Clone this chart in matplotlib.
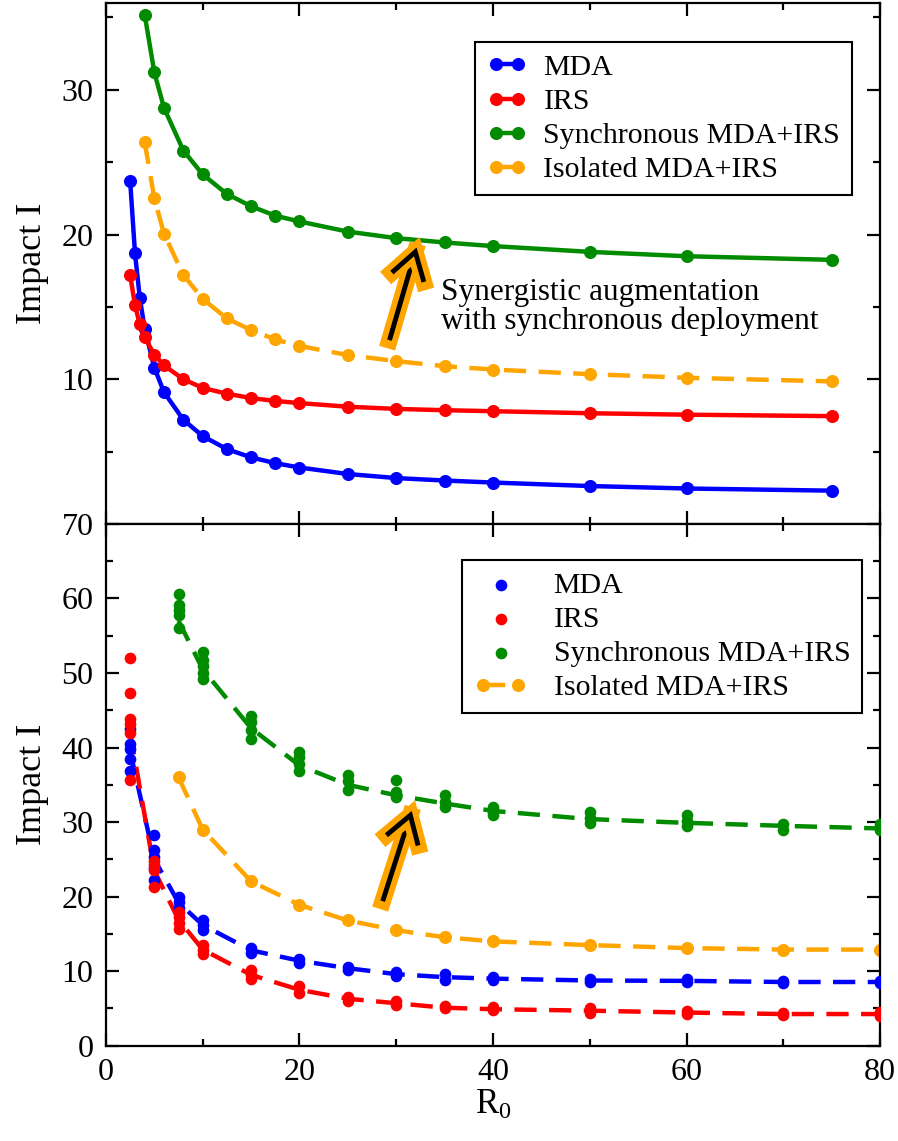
import numpy as np
import matplotlib
matplotlib.use('Agg')
import matplotlib.pyplot as plt
import matplotlib.patheffects as pe
from matplotlib.patches import FancyArrowPatch
from matplotlib.ticker import MultipleLocator, FixedLocator


# top panel: deterministic curves
R0_top = [2.5, 3, 3.5, 4, 5, 6, 8, 10, 12.5, 15, 17.5, 20, 25, 30, 35, 40, 50, 60, 75]
mda_top = [23.7, 18.7, 15.6, 13.5, 10.8, 9.1, 7.2, 6.07, 5.17, 4.6, 4.2, 3.9, 3.45, 3.17, 3.0, 2.86, 2.62, 2.45, 2.3]
irs_top = [17.2, 15.1, 13.8, 12.9, 11.7, 10.95, 10.0, 9.4, 9.0, 8.7, 8.5, 8.35, 8.1, 7.95, 7.86, 7.79, 7.65, 7.55, 7.45]

R0_top_comb = [4, 5, 6, 8, 10, 12.5, 15, 17.5, 20, 25, 30, 35, 40, 50, 60, 75]
sync_top = [35.2, 31.2, 28.75, 25.8, 24.15, 22.8, 21.95, 21.3, 20.9, 20.2, 19.75, 19.45, 19.2, 18.8, 18.5, 18.25]
iso_top = [26.4, 22.5, 20.05, 17.2, 15.55, 14.2, 13.4, 12.75, 12.3, 11.67, 11.25, 10.9, 10.67, 10.35, 10.1, 9.85]

# bottom panel: stochastic replicates (scatter) and their average (dashed)
R0_bot = [2.5, 5, 7.5, 10, 15, 20, 25, 30, 35, 40, 50, 60, 70, 80]
mda_reps = [[42.5, 40.5, 39.8, 38.5, 36.8], [28.3, 26.2, 25.3, 23.8, 22.3], [19.9, 19.3, 18.5],
            [16.8, 16.2, 15.5], [13.1, 12.5], [11.7, 11.1], [10.6, 10.2], [9.9, 9.4], [9.6, 8.8],
            [9.2, 8.8], [8.9, 8.6], [8.9, 8.5], [8.7, 8.4], [8.7, 8.4]]
irs_reps = [[52.0, 47.3, 43.8, 43.2, 42.0, 35.6], [24.8, 24.2, 23.6, 21.3], [18.0, 17.3, 16.5, 15.7],
            [13.5, 12.9, 12.3], [10.1, 9.5, 8.9], [8.0, 7.1], [6.6, 6.0], [6.0, 5.5], [5.3, 5.0],
            [5.2, 4.8], [5.0, 4.4], [4.7, 4.2], [4.4, 4.1], [4.5, 4.0]]
mda_avg = [39.5, 25.0, 19.2, 16.2, 12.8, 11.4, 10.4, 9.6, 9.2, 9.0, 8.75, 8.7, 8.55, 8.55]
irs_avg = [42.0, 23.5, 16.9, 12.9, 9.5, 7.5, 6.3, 5.7, 5.1, 4.9, 4.7, 4.45, 4.25, 4.25]

R0_bot_comb = [7.5, 10, 15, 20, 25, 30, 35, 40, 50, 60, 70, 80]
sync_reps = [[60.6, 59.1, 58.4, 57.8, 56.1], [52.8, 51.8, 51.0, 50.0, 49.2], [44.2, 43.4, 42.3, 41.2],
             [39.4, 38.7, 37.8, 36.8], [36.3, 35.5, 34.3], [35.6, 34.0, 33.4], [33.6, 32.7, 32.0],
             [32.0, 31.4, 30.9], [31.3, 30.6, 29.9], [30.9, 30.1, 29.5], [29.8, 29.0], [29.7, 28.9]]
sync_avg = [57.0, 50.5, 42.6, 37.6, 35.0, 33.6, 32.5, 31.5, 30.4, 29.9, 29.5, 29.15]
iso_bot = [36.0, 29.0, 22.05, 18.9, 16.8, 15.5, 14.55, 14.0, 13.5, 13.1, 12.9, 12.9]

C_MDA = '#0000ff'
C_IRS = '#ff0000'
C_SYNC = '#008b00'
C_ISO = '#ffa500'

plt.rcParams['font.family'] = ['Liberation Serif', 'DejaVu Serif']
plt.rcParams['mathtext.fontset'] = 'custom'
plt.rcParams['mathtext.rm'] = 'Liberation Serif'
plt.rcParams['mathtext.it'] = 'Liberation Serif:italic'

fig = plt.figure(figsize=(8.98, 11.41), dpi=100)
ax1 = fig.add_axes([0.118, 0.5408, 0.862, 0.4566])
ax2 = fig.add_axes([0.118, 0.0835, 0.862, 0.4573], sharex=ax1)

LW = 3.2
MS = 8.4
DASH = (5.0, 2.8)
LEGFONT = 21.5

# ---- top panel
ax1.plot(R0_top, mda_top, '-o', color=C_MDA, lw=LW, ms=MS, label='MDA')
ax1.plot(R0_top, irs_top, '-o', color=C_IRS, lw=LW, ms=MS, label='IRS')
ax1.plot(R0_top_comb, sync_top, '-o', color=C_SYNC, lw=LW, ms=MS, label='Synchronous MDA+IRS')
ax1.plot(R0_top_comb, iso_top, '--o', color=C_ISO, lw=LW, ms=MS, dashes=DASH,
         label='Isolated MDA+IRS')

ax1.set_ylim(0, 36)
ax1.yaxis.set_major_locator(FixedLocator([10, 20, 30]))
ax1.yaxis.set_minor_locator(FixedLocator([5, 15, 25, 35]))
ax1.tick_params(axis='x', labelbottom=False)

leg1 = ax1.legend(loc='upper right', bbox_to_anchor=(0.964, 0.925), numpoints=2,
                  fontsize=LEGFONT, handlelength=1.35, labelspacing=0.24, handletextpad=0.55,
                  borderpad=0.4, borderaxespad=0, fancybox=False, framealpha=1,
                  edgecolor='black')
leg1.get_frame().set_linewidth(1.5)

ax1.text(34.6, 15.0, 'Synergistic augmentation\nwith synchronous deployment',
         fontsize=22.5, ha='left', va='center', linespacing=1.0)

# ---- bottom panel
for x, reps in zip(R0_bot, mda_reps):
    ax2.scatter([x] * len(reps), reps, s=MS ** 2, color=C_MDA, zorder=3, linewidths=0)
for x, reps in zip(R0_bot, irs_reps):
    ax2.scatter([x] * len(reps), reps, s=MS ** 2, color=C_IRS, zorder=3, linewidths=0)
for x, reps in zip(R0_bot_comb, sync_reps):
    ax2.scatter([x] * len(reps), reps, s=MS ** 2, color=C_SYNC, zorder=3, linewidths=0)

ax2.plot(R0_bot, mda_avg, '--', color=C_MDA, lw=LW, dashes=DASH)
ax2.plot(R0_bot, irs_avg, '--', color=C_IRS, lw=LW, dashes=DASH)
ax2.plot(R0_bot_comb, sync_avg, '--', color=C_SYNC, lw=LW, dashes=DASH)
ax2.plot(R0_bot_comb, iso_bot, '--o', color=C_ISO, lw=LW, ms=MS, dashes=DASH)

# legend proxies
h_mda = ax2.scatter([], [], s=MS ** 2, color=C_MDA, linewidths=0, label='MDA')
h_irs = ax2.scatter([], [], s=MS ** 2, color=C_IRS, linewidths=0, label='IRS')
h_sync = ax2.scatter([], [], s=MS ** 2, color=C_SYNC, linewidths=0, label='Synchronous MDA+IRS')
h_iso, = ax2.plot([], [], '--o', color=C_ISO, lw=LW, ms=MS, dashes=DASH, label='Isolated MDA+IRS')
leg2 = ax2.legend(handles=[h_mda, h_irs, h_sync, h_iso], loc='upper right',
                  bbox_to_anchor=(0.977, 0.931), numpoints=2, scatterpoints=1,
                  fontsize=LEGFONT, handlelength=1.75, labelspacing=0.24, handletextpad=0.9,
                  borderpad=0.4, borderaxespad=0, fancybox=False, framealpha=1,
                  edgecolor='black')
leg2.get_frame().set_linewidth(1.5)

ax2.set_xlim(0, 80)
ax2.set_ylim(0, 70)
ax2.xaxis.set_major_locator(MultipleLocator(20))
ax2.xaxis.set_minor_locator(MultipleLocator(10))
ax2.yaxis.set_major_locator(MultipleLocator(10))
ax2.yaxis.set_minor_locator(MultipleLocator(5))
ax2.set_xlabel('R$_0$', fontsize=25, labelpad=1)

# arrows with orange outline
for ax, (x0, y0), (x1, y1) in [(ax1, (29.3, 12.7), (32.1, 19.1)),
                               (ax2, (28.6, 19.4), (31.6, 31.5))]:
    arr = FancyArrowPatch((x0, y0), (x1, y1), arrowstyle='->,head_length=0.95,head_width=0.6',
                          color='black', lw=3.5, mutation_scale=20, zorder=5,
                          shrinkA=0, shrinkB=0, capstyle='butt', joinstyle='miter')
    arr.set_path_effects([pe.Stroke(linewidth=12, foreground=C_ISO, joinstyle='miter',
                                    capstyle='projecting'), pe.Normal()])
    ax.add_patch(arr)

for ax in (ax1, ax2):
    ax.set_ylabel('Impact I', fontsize=26, labelpad=9)
    for s in ax.spines.values():
        s.set_linewidth(1.6)
    ax.tick_params(which='both', direction='in', top=True, right=True, width=1.6,
                   labelsize=23, pad=9)
    ax.tick_params(which='major', length=9.5)
    ax.tick_params(which='minor', length=5)

fig.savefig('out.png', dpi=100)
